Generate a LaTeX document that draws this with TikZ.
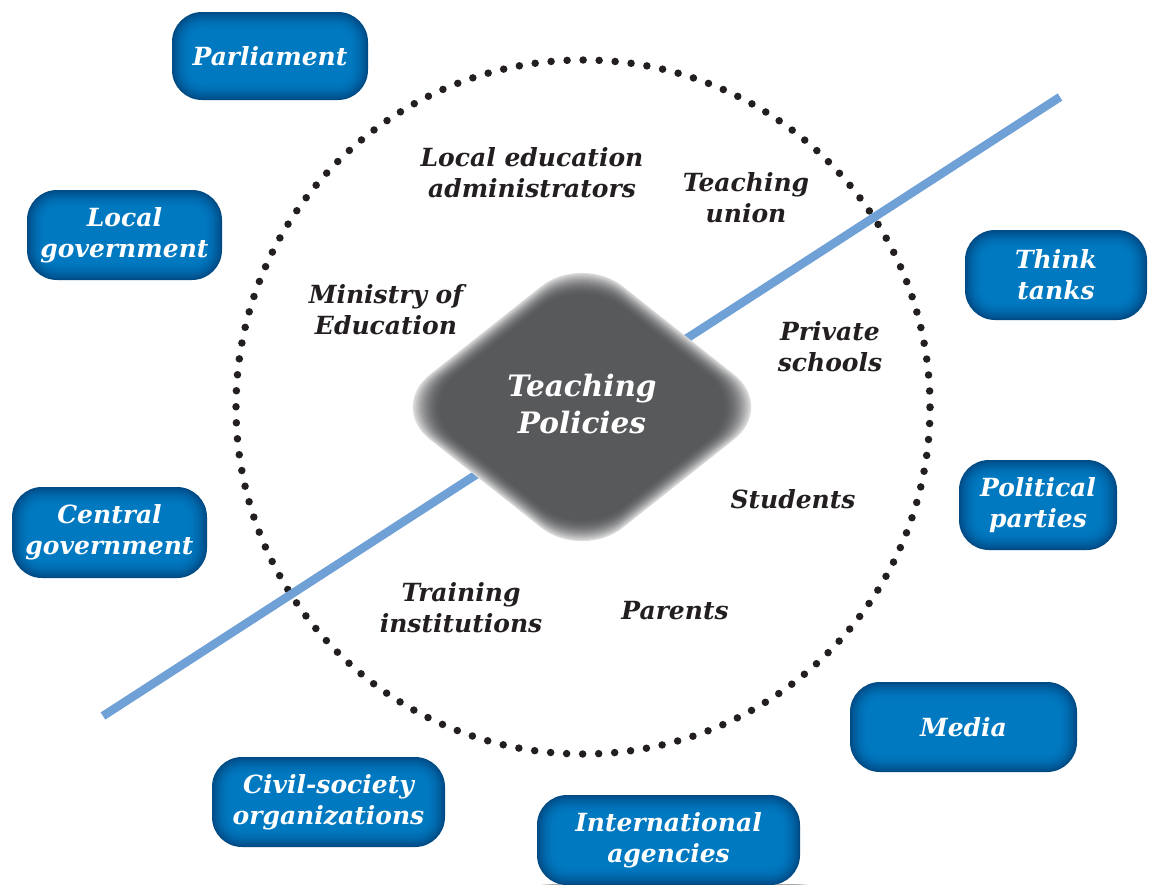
\documentclass[tikz,border=0pt]{standalone}
\usepackage{fontspec}
\setmainfont{DejaVu Serif}
\usetikzlibrary{backgrounds}
\definecolor{boxout}{HTML}{004A84}
\definecolor{boxin}{HTML}{0079C1}
\definecolor{barblue}{HTML}{6FA0D6}
\definecolor{diam}{HTML}{58595B}
\definecolor{ink}{HTML}{231F20}
\newcommand\agentfont{\fontsize{25}{31}\selectfont\bfseries\itshape}
\newcommand\bigfont{\fontsize{29.5}{37}\selectfont\bfseries\itshape}
\tikzset{
  agent/.style={rounded corners=30pt, fill=boxout, text=white, font=\agentfont,
    align=center, inner sep=0pt,
    path picture={
      \foreach \i in {1,...,20}{
        \pgfmathsetmacro\t{100*(1-(1-\i/20)^2)}
        \pgfmathsetmacro\rc{max(30-\i,4)}
        \fill[boxin!\t!boxout, rounded corners=\rc pt]
          ([shift={(\i*1pt,-\i*1pt)}]path picture bounding box.north west)
          rectangle
          ([shift={(-\i*1pt,\i*1pt)}]path picture bounding box.south east);
      }
    }},
  lab/.style={font=\agentfont, text=ink, align=center, inner sep=0pt},
  ring/.style={line width=7.5pt, line cap=round, dash pattern=on 0pt off 16.03pt, ink},
  bar/.style={line width=8.5pt, barblue},
  shadowlayer/.style={fill=black, opacity=0.06, rounded corners=30pt}
}
\begin{document}
\begin{tikzpicture}[x=1pt,y=-1pt]
\useasboundingbox (0,0) rectangle (1153,884);
\fill[white] (0,0) rectangle (1153,884);

% dotted ring
\draw[ring] (583,407) circle[radius=347pt];

% blue line
\coordinate (lineA) at (103,716);
\coordinate (lineB) at (1060,97);
\draw[bar] (lineA) -- (lineB);

% soft-edged diamond
\foreach \j in {0,...,20}{
  \pgfmathsetmacro\s{1-\j*0.9/118}
  \pgfmathsetmacro\t{22+78*(1-(1-\j/20)^2)}
  \fill[diam!\t!white, rounded corners=52pt, shift={(582,407)}, scale=\s]
    (-193,0) -- (0,-153) -- (193,0) -- (0,153) -- cycle;
}
\node[font=\bigfont, text=white, align=center, inner sep=0pt] (tp) at (582,404) {Teaching\\Policies};

% inner labels
\node[lab] (lea) at (532,173) {Local education\\administrators};
\node[lab] (tu)  at (746,198) {Teaching\\union};
\node[lab] (moe) at (386,310) {Ministry of\\Education};
\node[lab] (ps)  at (830,347) {Private\\schools};
\node[lab] (st)  at (793,499) {Students};
\node[lab] (ti)  at (461,608) {Training\\institutions};
\node[lab] (pa)  at (675,611) {Parents};

% outer agents
\node[agent, minimum width=196pt, minimum height=88pt] (parl) at (270,56) {Parliament};
\node[agent, minimum width=195pt, minimum height=90pt] (locg) at (124.5,235) {Local\\government};
\node[agent, minimum width=195pt, minimum height=91pt] (cent) at (109.5,532.5) {Central\\government};
\node[agent, minimum width=233pt, minimum height=90pt] (civ)  at (328.5,802) {Civil-society\\organizations};
\node[agent, minimum width=263pt, minimum height=90pt] (intl) at (668.5,840) {International\\agencies};
\node[agent, minimum width=227pt, minimum height=90pt] (med)  at (963.5,727) {Media};
\node[agent, minimum width=158pt, minimum height=90pt] (pol)  at (1038,505) {Political\\parties};
\node[agent, minimum width=182pt, minimum height=90pt] (tt)   at (1056,275) {Think\\tanks};

% blurred drop shadows
\begin{scope}[on background layer]
\foreach \n in {parl,locg,cent,civ,intl,med,pol,tt}{
  \foreach \i in {0,...,6}{
    \fill[shadowlayer]
      ([shift={(6pt-\i*1pt,-7pt+\i*1pt)}]\n.north west) rectangle
      ([shift={(6pt+\i*1pt,-7pt-\i*1pt)}]\n.south east);
  }
}
\end{scope}
\end{tikzpicture}
\end{document}
